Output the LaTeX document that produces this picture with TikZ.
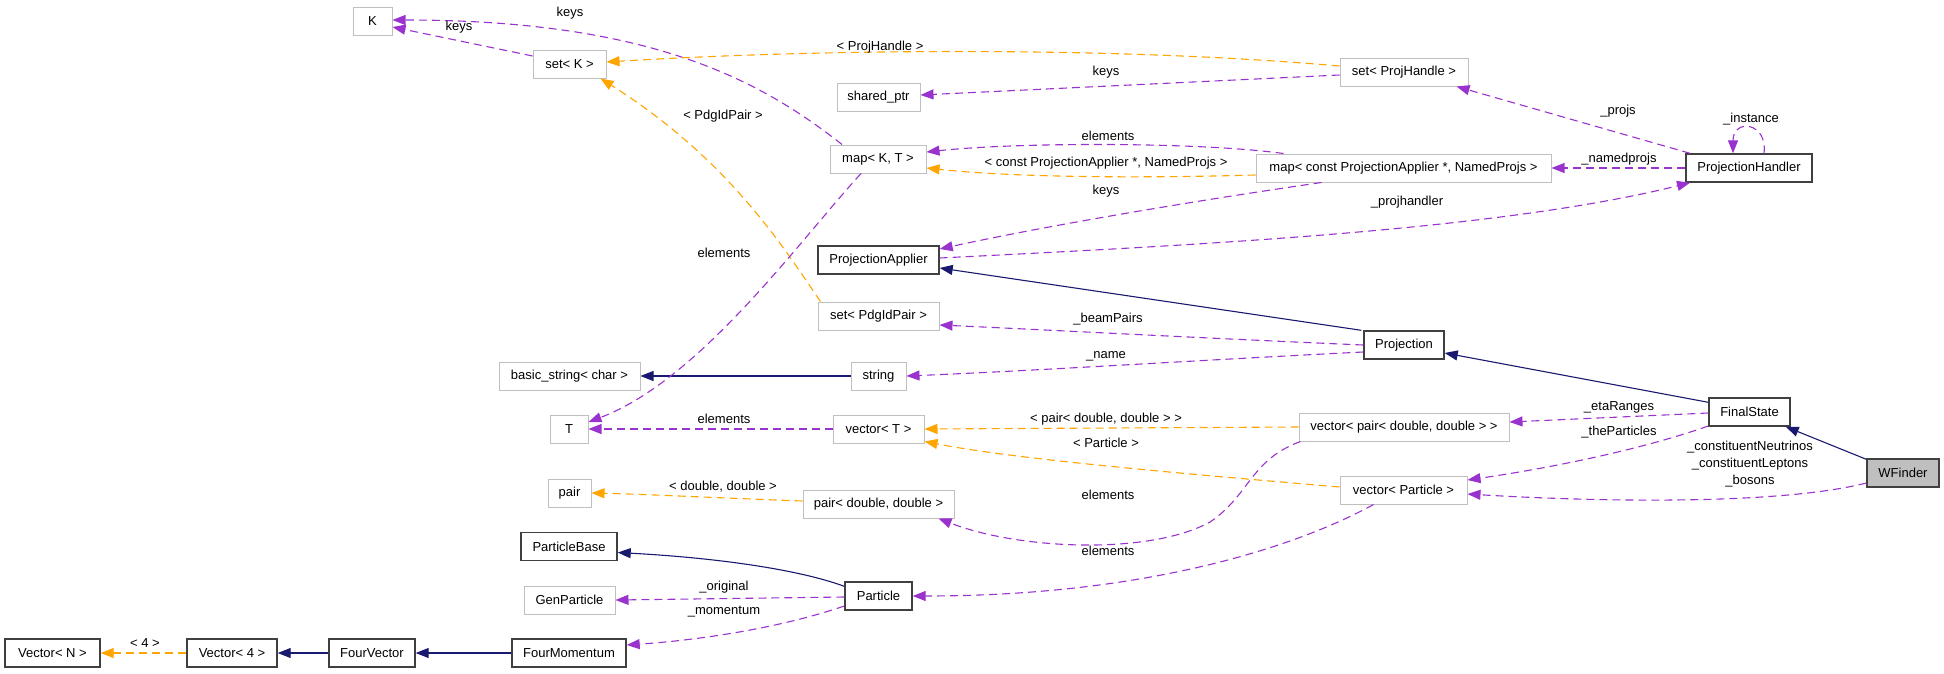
\documentclass[tikz,border=0pt]{standalone}
\usepackage{fontspec}
\setmainfont{Liberation Sans}
\usetikzlibrary{arrows.meta}
\definecolor{edgepurple}{HTML}{9A32CD}
\definecolor{edgeorange}{HTML}{FFA500}
\definecolor{edgenavy}{HTML}{191970}
\definecolor{boxgray}{HTML}{BFBFBF}
\definecolor{boxdark}{HTML}{404040}
\tikzset{
  cls/.style={rectangle, draw=boxgray, line width=1pt, minimum height=28pt, inner sep=0pt, font=\fontsize{13}{15}\selectfont, text=black},
  clsb/.style={cls, draw=boxdark, line width=1.4pt},
  tip/.style={-{Triangle[length=13pt,width=10pt]}},
  usage/.style={draw=edgepurple, dash pattern=on 8pt off 5pt, line width=1.1pt, tip},
  tmpl/.style={draw=edgeorange, dash pattern=on 8pt off 5pt, line width=1.1pt, tip},
  inh/.style={draw=edgenavy, line width=1.1pt, tip},
  lbl/.style={font=\fontsize{13}{17}\selectfont, inner sep=0pt, align=center}
}
\begin{document}
\begin{tikzpicture}[x=1pt,y=-1pt]
\useasboundingbox (0,0) rectangle (1944,673);
% nodes
\node[cls, minimum width=39pt] (K) at (372.5,21) {K};
\node[cls, minimum width=73pt] (setK) at (569.5,64) {set< K >};
\node[cls, minimum width=83pt] (sharedptr) at (878.5,97) {shared\_ptr};
\node[cls, minimum width=96pt] (mapKT) at (878,159) {map< K, T >};
\node[clsb, minimum width=121pt] (PA) at (878.5,260) {ProjectionApplier};
\node[cls, minimum width=121pt] (setPdg) at (878.5,316) {set< PdgIdPair >};
\node[cls, minimum width=295pt] (mapConst) at (1403.5,168) {map< const ProjectionApplier *, NamedProjs >};
\node[cls, minimum width=128pt] (setPH) at (1404,72) {set< ProjHandle >};
\node[clsb, minimum width=126pt] (PH) at (1749,168) {ProjectionHandler};
\node[cls, minimum width=141pt] (basicstr) at (569.5,376) {basic\_string< char >};
\node[cls, minimum width=55pt] (string) at (878.5,376) {string};
\node[clsb, minimum width=80pt] (Proj) at (1404,345) {Projection};
\node[cls, minimum width=38pt] (T) at (569,429) {T};
\node[cls, minimum width=91pt] (vecT) at (878.5,429) {vector< T >};
\node[cls, minimum width=210pt] (vecPair) at (1404,427) {vector< pair< double, double > >};
\node[cls, minimum width=43pt] (pair) at (569.5,493) {pair};
\node[cls, minimum width=151pt] (pairDD) at (878.5,504) {pair< double, double >};
\node[clsb, minimum width=96pt] (PBase) at (569,546.5) {ParticleBase};
\node[cls, minimum width=91pt] (GenP) at (569.5,600) {GenParticle};
\node[clsb, minimum width=67pt] (Particle) at (878.5,596) {Particle};
\node[cls, minimum width=127pt] (vecParticle) at (1403.5,490) {vector< Particle >};
\node[clsb, minimum width=81pt] (FS) at (1749.5,412) {FinalState};
\node[clsb, minimum width=72pt, fill=boxgray] (WF) at (1903,473) {WFinder};
\node[clsb, minimum width=95pt] (VecN) at (52.5,653) {Vector< N >};
\node[clsb, minimum width=90pt] (Vec4) at (232,653) {Vector< 4 >};
\node[clsb, minimum width=86pt] (FV) at (372,653) {FourVector};
\node[clsb, minimum width=114pt] (FM) at (569,653) {FourMomentum};
% edges
\draw[usage] ([yshift=8pt]setK.west) -- ([yshift=-6pt]K.east);
\draw[usage] ([xshift=-36pt]mapKT.north) .. controls (760,80) and (650,20) .. ([yshift=1pt]K.east);
\draw[tmpl] ([yshift=6pt]setPH.west) .. controls (1100,45) and (800,50) .. ([yshift=2pt]setK.east);
\draw[usage] ([yshift=-3pt]setPH.west) -- ([yshift=2pt]sharedptr.east);
\draw[tmpl] ([xshift=-58pt]setPdg.north) .. controls (785,250) and (730,160) .. ([xshift=-6pt]setK.south east);
\draw[usage] ([xshift=-120pt]mapConst.north) .. controls (1200,142) and (1020,142) .. ([yshift=7pt]mapKT.east);
\draw[tmpl] ([yshift=-7pt]mapConst.west) .. controls (1150,178) and (1020,178) .. ([yshift=-9pt]mapKT.east);
\draw[usage] ([xshift=-82pt]mapConst.south) .. controls (1200,200) and (1050,225) .. ([yshift=11pt]PA.east);
\draw[usage] ([xshift=-59pt]PH.north) -- ([xshift=-12pt]setPH.south east);
\draw[usage] ([xshift=15pt]PH.north) .. controls (1768,122) and (1733,118) .. ([xshift=-16pt]PH.north);
\draw[usage] (PH.west) -- (mapConst.east);
\draw[usage] ([yshift=2pt]PA.east) .. controls (1200,245) and (1500,230) .. ([xshift=-59pt]PH.south);
\draw[inh] ([xshift=-2pt]Proj.north west) -- ([yshift=-8pt]PA.east);
\draw[usage] (Proj.west) .. controls (1200,338) and (1050,330) .. ([yshift=-9pt]setPdg.east);
\draw[usage] ([yshift=-7pt]Proj.west) .. controls (1200,360) and (1050,370) .. (string.east);
\draw[inh] (string.west) -- (basicstr.east);
\draw[usage] ([xshift=-17pt]mapKT.south) .. controls (800,240) and (700,380) .. ([yshift=7pt]T.east);
\draw[usage] (vecT.west) -- (T.east);
\draw[tmpl] (vecPair.west) -- (vecT.east);
\draw[tmpl] ([yshift=3pt]vecParticle.west) .. controls (1200,475) and (1020,460) .. ([yshift=2pt]vecT.south east);
\draw[tmpl] ([yshift=3pt]pairDD.west) .. controls (720,498) and (640,494) .. (pair.east);
\draw[usage] ([xshift=2pt]vecPair.south west) .. controls (1250,460) and (1250,495) .. (1210,522) .. controls (1150,555) and (1020,550) .. ([xshift=-16pt]pairDD.south east);
\draw[usage] ([xshift=-30pt]vecParticle.south) .. controls (1300,545) and (1150,596) .. (Particle.east);
\draw[inh] ([yshift=-5pt]Particle.north west) .. controls (800,570) and (720,558) .. ([yshift=-6pt]PBase.east);
\draw[usage] ([yshift=-1pt]Particle.west) -- (GenP.east);
\draw[usage] ([yshift=-10pt]Particle.west) .. controls (780,628) and (700,640) .. ([yshift=8pt]FM.east);
\draw[inh] (FM.west) -- (FV.east);
\draw[inh] (FV.west) -- (Vec4.east);
\draw[tmpl] (Vec4.west) -- (VecN.east);
\draw[inh] ([yshift=-5pt]FS.north west) -- ([yshift=-8pt]Proj.east);
\draw[usage] ([yshift=-1pt]FS.west) -- ([yshift=5pt]vecPair.east);
\draw[usage] ([yshift=-14pt]FS.west) .. controls (1640,450) and (1550,468) .. ([yshift=10pt]vecParticle.east);
\draw[inh] ([yshift=-1pt]WF.north west) -- ([xshift=-5pt]FS.south east);
\draw[usage] ([yshift=-10pt]WF.west) .. controls (1780,505) and (1600,502) .. ([yshift=-4pt]vecParticle.east);
% labels
\node[lbl] (l1) at (459,27) {keys};
\node[lbl] (l2) at (570,13) {keys};
\node[lbl] (l3) at (880,47) {< ProjHandle >};
\node[lbl] (l4) at (1106,72) {keys};
\node[lbl] (l5) at (723,116) {< PdgIdPair >};
\node[lbl] (l6) at (1108,136) {elements};
\node[lbl] (l7) at (1106,163) {< const ProjectionApplier *, NamedProjs >};
\node[lbl] (l8) at (1106,191) {keys};
\node[lbl] (l9) at (724,253) {elements};
\node[lbl] (l10) at (1108,319) {\_beamPairs};
\node[lbl] (l11) at (1618,111) {\_projs};
\node[lbl] (l12) at (1751,119) {\_instance};
\node[lbl] (l13) at (1619,159) {\_namedprojs};
\node[lbl] (l14) at (1407,202) {\_projhandler};
\node[lbl] (l15) at (1106,356) {\_name};
\node[lbl] (l16) at (724,419) {elements};
\node[lbl] (l17) at (1106,419) {< pair< double, double > >};
\node[lbl] (l18) at (1106,443) {< Particle >};
\node[lbl] (l19) at (723,487) {< double, double >};
\node[lbl] (l20) at (1108,495) {elements};
\node[lbl] (l21) at (1108,551) {elements};
\node[lbl] (l22) at (724,587) {\_original};
\node[lbl] (l23) at (724,612) {\_momentum};
\node[lbl] (l24) at (145,643) {< 4 >};
\node[lbl] (l25) at (1619,407) {\_etaRanges};
\node[lbl] (l26) at (1619,432) {\_theParticles};
\node[lbl] (l27) at (1750,464) {\_constituentNeutrinos\\\_constituentLeptons\\\_bosons};
\end{tikzpicture}
\end{document}
